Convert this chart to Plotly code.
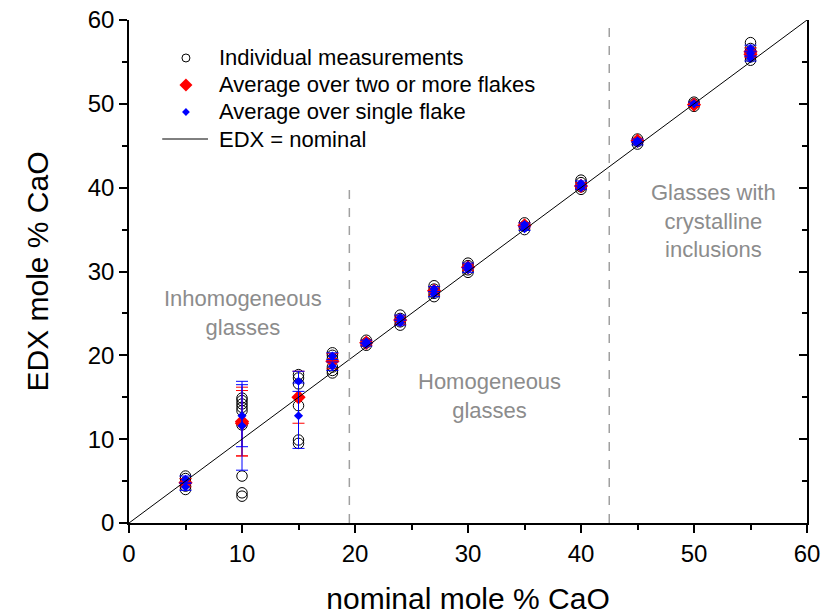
import plotly.graph_objects as go

# Individual EDX measurements (nominal, measured)
circ_x = [5]*5 + [10]*9 + [15]*6 + [18]*6 + [21]*3 + [24]*4 + [27]*4 + [30]*4 + [35]*3 + [40]*4 + [45]*3 + [50]*3 + [55]*5
circ_y = [5.6, 5.3, 4.9, 4.4, 4.0,
          14.9, 14.6, 14.2, 13.8, 13.4, 11.7, 5.6, 3.6, 3.2,
          17.7, 17.3, 16.6, 14.0, 9.9, 9.5,
          20.3, 20.0, 19.6, 18.6, 18.2, 17.9,
          21.8, 21.5, 21.2,
          24.8, 24.4, 24.0, 23.6,
          28.3, 27.9, 27.4, 27.0,
          31.0, 30.7, 30.2, 29.9,
          35.8, 35.4, 35.0,
          40.9, 40.6, 40.1, 39.8,
          45.8, 45.5, 45.2,
          50.2, 50.0, 49.7,
          57.3, 56.6, 56.2, 55.6, 55.2]

# Averages over two or more flakes
red_x = [5, 10, 10, 15, 18, 21, 24, 27, 30, 35, 40, 45, 50, 55, 55]
red_y = [4.8, 12.1, 11.9, 15.0, 19.3, 21.5, 24.2, 27.7, 30.5, 35.5, 40.2, 45.6, 49.9, 56.2, 55.9]
red_err = [0.5, 4.1, 3.9, 3.1, 0.9, 0.3, 0.5, 0.5, 0.4, 0.3, 0.4, 0.2, 0.2, 0.5, 0.4]

# Averages over a single flake
blue_x = [5, 5, 10, 10, 15, 15, 18, 18, 21, 21, 24, 24, 27, 27, 30, 30, 35, 35, 40, 40, 45, 45, 50, 55, 55, 55]
blue_y = [5.2, 4.3, 11.6, 12.8, 16.9, 12.8, 19.9, 18.7, 21.6, 21.3, 24.5, 23.9, 27.9, 27.3, 30.7, 30.2,
          35.6, 35.1, 40.5, 40.0, 45.6, 45.3, 50.0, 56.6, 56.0, 55.4]
blue_err = [0.4, 0.4, 5.3, 3.7, 1.2, 3.9, 0.4, 0.5, 0.2, 0.2, 0.3, 0.3, 0.3, 0.3, 0.3, 0.3,
            0.2, 0.2, 0.3, 0.2, 0.2, 0.2, 0.2, 0.4, 0.3, 0.3]

# Identity line and region boundaries
ident = [0, 60]
bound_x = [19.5, 42.5]
bound_top = [40, 60]

# Key entries
legend_labels = ["Individual measurements", "Average over two or more flakes",
                 "Average over single flake", "EDX = nominal"]

FONT = "Arial, Liberation Sans, sans-serif"
GREY = "#8c8c8c"
RED = "#ff0000"
BLUE = "#0000ff"

circ_marker = dict(symbol="circle-open", size=10.5, color="black", line=dict(width=1, color="black"))
red_marker = dict(symbol="diamond", size=11, color=RED)
blue_marker = dict(symbol="diamond", size=7, color=BLUE)

fig = go.Figure()

fig.add_trace(go.Scatter(x=circ_x, y=circ_y, mode="markers", marker=circ_marker,
                         name=legend_labels[0]))
fig.add_trace(go.Scatter(x=red_x, y=red_y, mode="markers", marker=red_marker,
                         error_y=dict(type="data", array=red_err, color=RED, thickness=1, width=6),
                         name=legend_labels[1]))
fig.add_trace(go.Scatter(x=blue_x, y=blue_y, mode="markers", marker=blue_marker,
                         error_y=dict(type="data", array=blue_err, color=BLUE, thickness=1, width=6),
                         name=legend_labels[2]))
fig.add_trace(go.Scatter(x=ident, y=ident, mode="lines", line=dict(color="black", width=1),
                         name=legend_labels[3]))
# right-hand frame axis
fig.add_trace(go.Scatter(x=ident, y=ident, yaxis="y2", mode="lines",
                         line=dict(width=0), hoverinfo="skip"))

# key drawn in plot-fraction coordinates on a hidden overlay axis pair
key_x = 0.084
key_text_x = 0.130
key_rows = [0.9245, 0.8708, 0.8171, 0.7634]
for row, mk in zip(key_rows[:3], [dict(circ_marker, size=8), dict(red_marker, size=10), dict(blue_marker, size=6)]):
    fig.add_trace(go.Scatter(x=[key_x], y=[row], xaxis="x2", yaxis="y3", mode="markers",
                             marker=mk, hoverinfo="skip"))
fig.add_shape(type="line", xref="paper", yref="paper", x0=0.049, x1=0.1165,
              y0=key_rows[3], y1=key_rows[3], line=dict(color="black", width=1))
for row, lab in zip(key_rows, legend_labels):
    fig.add_annotation(x=key_text_x, y=row, xref="paper", yref="paper", text=lab,
                       showarrow=False, xanchor="left", yanchor="middle",
                       font=dict(family=FONT, size=22, color="black"))

for bx, bt in zip(bound_x, bound_top):
    fig.add_shape(type="line", xref="x", yref="y", x0=bx, x1=bx, y0=0, y1=bt,
                  line=dict(color="#a0a0a0", width=1.5, dash="dash"))

notes = [
    (10.1, 25.0, "Inhomogeneous<br>glasses"),
    (31.9, 15.2, "Homogeneous<br>glasses"),
    (51.7, 36.0, "Glasses with<br>crystalline<br>inclusions"),
]
for nx, ny, nt in notes:
    fig.add_annotation(x=nx, y=ny, text=nt, showarrow=False, xref="x", yref="y",
                       font=dict(family=FONT, size=22, color=GREY), align="center")

axis_common = dict(
    range=[0, 60], showline=True, linecolor="black", linewidth=1.5,
    showgrid=False, zeroline=False, dtick=10, tick0=0, automargin=False,
    tickcolor="black", tickwidth=1.5, ticklen=8,
    tickfont=dict(family=FONT, size=24, color="black"),
)

fig.update_layout(
    width=825, height=616,
    paper_bgcolor="white", plot_bgcolor="white",
    margin=dict(l=129, r=18, t=20, b=93),
    font=dict(family=FONT, color="black"),
    showlegend=False,
    xaxis=dict(**axis_common, ticks="outside",
               minor=dict(dtick=5, ticks="outside", ticklen=5, tickwidth=1.5, tickcolor="black"),
               title=dict(text="nominal mole % CaO", font=dict(family=FONT, size=30), standoff=22)),
    yaxis=dict(**axis_common, ticks="outside",
               minor=dict(dtick=5, ticks="outside", ticklen=5, tickwidth=1.5, tickcolor="black"),
               title=dict(text="EDX mole % CaO", font=dict(family=FONT, size=30), standoff=30)),
    yaxis2=dict(range=[0, 60], overlaying="y", side="right", showline=True, linecolor="black",
                linewidth=1.5, showgrid=False, zeroline=False, dtick=10, tick0=0, automargin=False,
                ticks="inside", ticklen=8, tickwidth=1.5, tickcolor="black", showticklabels=False,
                minor=dict(dtick=5, ticks="inside", ticklen=5, tickwidth=1.5, tickcolor="black")),
    xaxis2=dict(range=[0, 1], overlaying="x", visible=False),
    yaxis3=dict(range=[0, 1], overlaying="y", visible=False),
)

fig.write_html("out.html")
